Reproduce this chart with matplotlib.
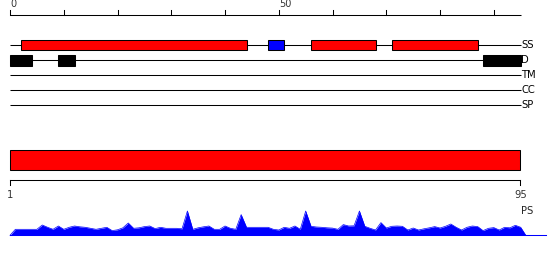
import matplotlib
matplotlib.use("Agg")
import matplotlib.pyplot as plt
from matplotlib.patches import Rectangle

# ---- data ----
seq_len = 95
top_ticks = list(range(0, 91, 10))
top_tick_labels = {0: "0", 50: "50"}
track_names = ["SS", "D", "TM", "CC", "SP"]

ss_starts = [2, 48, 56, 71]
ss_ends = [44, 51, 68, 87]
ss_types = ["helix", "strand", "helix", "helix"]

dis_starts = [0, 9, 88]
dis_ends = [4, 12, 95]

ps_start = 1
ps_end = 95
ps_tick_labels = ["1", "95"]
ps_label = "PS"

profile = [6, 6, 6, 6, 6, 10.3, 8, 6, 9.3, 6,
           8, 9.3, 8.5, 8, 7, 6, 7, 8, 4.7, 5.5,
           7.5, 12.3, 7, 7.5, 8.7, 9.3, 6.7, 8, 7, 7,
           7, 6.5, 24.3, 6, 7.5, 8.5, 9.3, 6, 6, 9.3,
           7, 6, 20.7, 8, 8, 8, 8, 8, 6, 5.3,
           8, 7, 9.3, 6, 24.3, 9, 8.3, 8, 7.5, 7.2,
           6, 10.7, 9.3, 9.5, 24.3, 9, 7, 5.3, 12.7, 7.3,
           9, 9.3, 9, 5.3, 7.3, 5.3, 6.5, 7.5, 8.7, 7.3,
           9, 11.3, 8, 5.3, 8, 9.3, 8.7, 4.7, 7, 7.7,
           5.3, 8, 7.5, 10, 8]

# ---- layout ----
W, H = 550, 260
fig = plt.figure(figsize=(W / 100, H / 100), dpi=100)
fig.patch.set_facecolor("white")
LW = 0.75
FONT = "DejaVu Sans"

# top axes: x in residue units (0 -> 10px, 95 -> 520.7px)
x0_px, x1_px = 10.0, 520.7
ppu = (x1_px - x0_px) / seq_len
ax = fig.add_axes([0, 0, 1, 1])
ax.set_xlim(-x0_px / ppu, (W - x0_px) / ppu)
ax.set_ylim(H, 0)
ax.axis("off")

# top ruler
axis_y = 15
ax.plot([0, seq_len], [axis_y, axis_y], color="black", lw=LW, solid_capstyle="butt")
for t in top_ticks:
    ax.plot([t, t], [axis_y, axis_y - 5], color="black", lw=LW)
    if t in top_tick_labels:
        ax.text(t, axis_y - 6, top_tick_labels[t], ha="left", va="bottom",
                fontsize=7, color="#333333", family=FONT)

# tracks
track_y = {"SS": 45.3, "D": 60.3, "TM": 75.3, "CC": 90.3, "SP": 105.3}
for name in track_names:
    y = track_y[name]
    ax.plot([0, seq_len], [y, y], color="black", lw=LW, solid_capstyle="butt", zorder=1)
    ax.text(seq_len + 0.1, y, name, ha="left", va="center", fontsize=7.2,
            color="black", family=FONT)

ss_colors = {"helix": "#ff0000", "strand": "#0000ff"}
bar_h = 10
for s, e, t in zip(ss_starts, ss_ends, ss_types):
    ax.add_patch(Rectangle((s, track_y["SS"] - bar_h / 2), e - s, bar_h,
                           facecolor=ss_colors[t], edgecolor="black", lw=LW, zorder=2))
for s, e in zip(dis_starts, dis_ends):
    ax.add_patch(Rectangle((s, track_y["D"] - 5.3), e - s, 10.6,
                           facecolor="black", edgecolor="black", lw=LW, zorder=2))

# profile
base_y = 235.3
xs = [0] + list(range(1, seq_len + 1)) + [seq_len + 0.95]
ys = [base_y] + [base_y - v for v in profile] + [base_y]
ax.fill_between(xs, ys, base_y, color="#0000ff", lw=0, zorder=2)
ax.plot(xs, ys, color="#0000ff", lw=0.5, zorder=2)
ax.plot([0, (546 - x0_px) / ppu], [base_y, base_y], color="#0000ff", lw=LW, zorder=2)

# bottom PS axes: 1 -> 10px, 95 -> 520.3px
b0_px, b1_px = 10.0, 520.3
bppu = (b1_px - b0_px) / (ps_end - ps_start)
ax2 = fig.add_axes([0, 0, 1, 1])
ax2.set_xlim(ps_start - b0_px / bppu, ps_start + (W - b0_px) / bppu)
ax2.set_ylim(H, 0)
ax2.axis("off")
ax2.patch.set_alpha(0)

ax2.add_patch(Rectangle((ps_start, 150.3), ps_end - ps_start, 20,
                        facecolor="#ff0000", edgecolor="black", lw=LW))
ps_axis_y = 180.3
ax2.plot([ps_start, ps_end], [ps_axis_y, ps_axis_y], color="black", lw=LW)
for pos, lab in zip([ps_start, ps_end], ps_tick_labels):
    ax2.plot([pos, pos], [ps_axis_y, ps_axis_y + 5], color="black", lw=LW)
    ax2.text(pos, 195, lab, ha="center", va="center", fontsize=7.2,
             color="#333333", family=FONT)
ax2.text(ps_end + 0.1, 210.5, ps_label, ha="left", va="center", fontsize=7.2,
         color="#222222", family=FONT)

fig.savefig("out.png", dpi=100, facecolor="white")
